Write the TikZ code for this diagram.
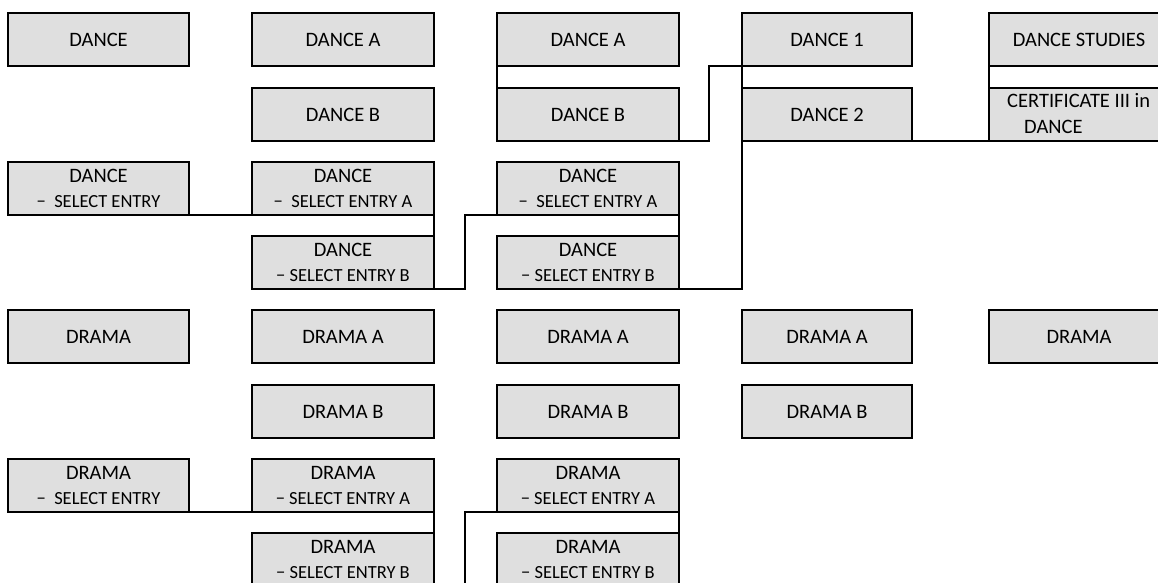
\documentclass[tikz,border=0pt]{standalone}
\usepackage{fontspec}
\setmainfont{Carlito}
\usetikzlibrary{calc}
\definecolor{boxgray}{RGB}{223,223,223}
\begin{document}
\begin{tikzpicture}[x=1pt,y=-1pt,
  box/.style={draw=black, line width=2pt, fill=boxgray, minimum height=53pt,
    inner sep=0pt, outer sep=0pt, anchor=north west,
    font=\fontsize{20.5}{24}\selectfont},
  colA/.style={minimum width=181pt},
  colB/.style={minimum width=182pt},
  colC/.style={minimum width=182pt},
  colD/.style={minimum width=170pt},
  colE/.style={minimum width=180pt},
  head/.style={anchor=base, inner sep=0pt, font=\fontsize{20.5}{24}\selectfont},
  sub/.style={anchor=base, inner sep=0pt, font=\fontsize{18.5}{22}\selectfont},
  link/.style={draw=black, line width=2pt, line join=miter}]

\useasboundingbox (0,0) rectangle (1158,583);
\clip (0,0) rectangle (1158,583);

% ---------------- Dance ----------------
\node[box,colA] (dance)    at (8,13)   {DANCE};
\node[box,colB] (danceA)   at (252,13) {DANCE A};
\node[box,colC] (danceAA)  at (497,13) {DANCE A};
\node[box,colD] (danceI)   at (742,13) {DANCE 1};
\node[box,colE] (studies)  at (989,13) {DANCE STUDIES};

\node[box,colB] (danceB)   at (252,88) {DANCE B};
\node[box,colC] (danceBB)  at (497,88) {DANCE B};
\node[box,colD] (danceII)  at (742,88) {DANCE 2};
\node[box,colE] (cert)     at (989,88) {};
\node[anchor=base west, inner sep=0pt, font=\fontsize{20.5}{24}\selectfont]
  (certone) at ($(cert.north west)+(18,20)$) {CERTIFICATE III in};
\node[anchor=base west, inner sep=0pt, font=\fontsize{20.5}{24}\selectfont]
  (certtwo) at ($(cert.north west)+(35,45)$) {DANCE};

\node[box,colA] (dsel)     at (8,162)   {};
\node[box,colB] (dselA)    at (252,162) {};
\node[box,colC] (dselAA)   at (497,162) {};
\node[box,colB] (dselB)    at (252,236) {};
\node[box,colC] (dselBB)   at (497,236) {};

\foreach \b/\t in {dsel/{−\ \ SELECT ENTRY}, dselA/{−\ \ SELECT ENTRY A},
                   dselAA/{−\ \ SELECT ENTRY A}, dselB/{− SELECT ENTRY B},
                   dselBB/{− SELECT ENTRY B}}{
  \node[head] (\b-one) at ($(\b.north)+(0,20)$) {DANCE};
  \node[sub]  (\b-two) at ($(\b.north)+(0,45)$) {\t};
}

% ---------------- Drama ----------------
\node[box,colA] (drama)    at (8,310)   {DRAMA};
\node[box,colB] (dramaA)   at (252,310) {DRAMA A};
\node[box,colC] (dramaAA)  at (497,310) {DRAMA A};
\node[box,colD] (dramaAAA) at (742,310) {DRAMA A};
\node[box,colE] (dramaE)   at (989,310) {DRAMA};

\node[box,colB] (dramaB)   at (252,385) {DRAMA B};
\node[box,colC] (dramaBB)  at (497,385) {DRAMA B};
\node[box,colD] (dramaBBB) at (742,385) {DRAMA B};

\node[box,colA] (rsel)     at (8,459)   {};
\node[box,colB] (rselA)    at (252,459) {};
\node[box,colC] (rselAA)   at (497,459) {};
\node[box,colB] (rselB)    at (252,533) {};
\node[box,colC] (rselBB)   at (497,533) {};

\foreach \b/\t in {rsel/{−\ \ SELECT ENTRY}, rselA/{− SELECT ENTRY A},
                   rselAA/{− SELECT ENTRY A}, rselB/{− SELECT ENTRY B},
                   rselBB/{− SELECT ENTRY B}}{
  \node[head] (\b-one) at ($(\b.north)+(0,20)$) {DRAMA};
  \node[sub]  (\b-two) at ($(\b.north)+(0,45)$) {\t};
}

% ---------------- connectors: dance ----------------
\draw[link] (danceAA.south west) -- (danceBB.north west);
\draw[link] (danceBB.south east) -- ++(30,0) |- (danceI.south west);
\draw[link] (danceI.south west) -- (danceII.north west);
\draw[link] (dselBB.south east) -| (danceII.south west);
\draw[link] (danceII.south east) -- (cert.south west);
\draw[link] (studies.south west) -- (cert.north west);

\draw[link] (dsel.south east) -- (dselA.south west);
\draw[link] (dselA.south east) -- (dselB.north east);
\draw[link] (dselB.south east) -- ++(31,0) |- (dselAA.south west);
\draw[link] (dselAA.south east) -- (dselBB.north east);

% ---------------- connectors: drama ----------------
\coordinate (tail) at (465,600);
\draw[link] (rsel.south east) -- (rselA.south west);
\draw[link] (rselA.south east) -- (rselB.north east);
\draw[link] (tail) |- (rselAA.south west);
\draw[link] (rselAA.south east) -- (rselBB.north east);

\end{tikzpicture}
\end{document}
